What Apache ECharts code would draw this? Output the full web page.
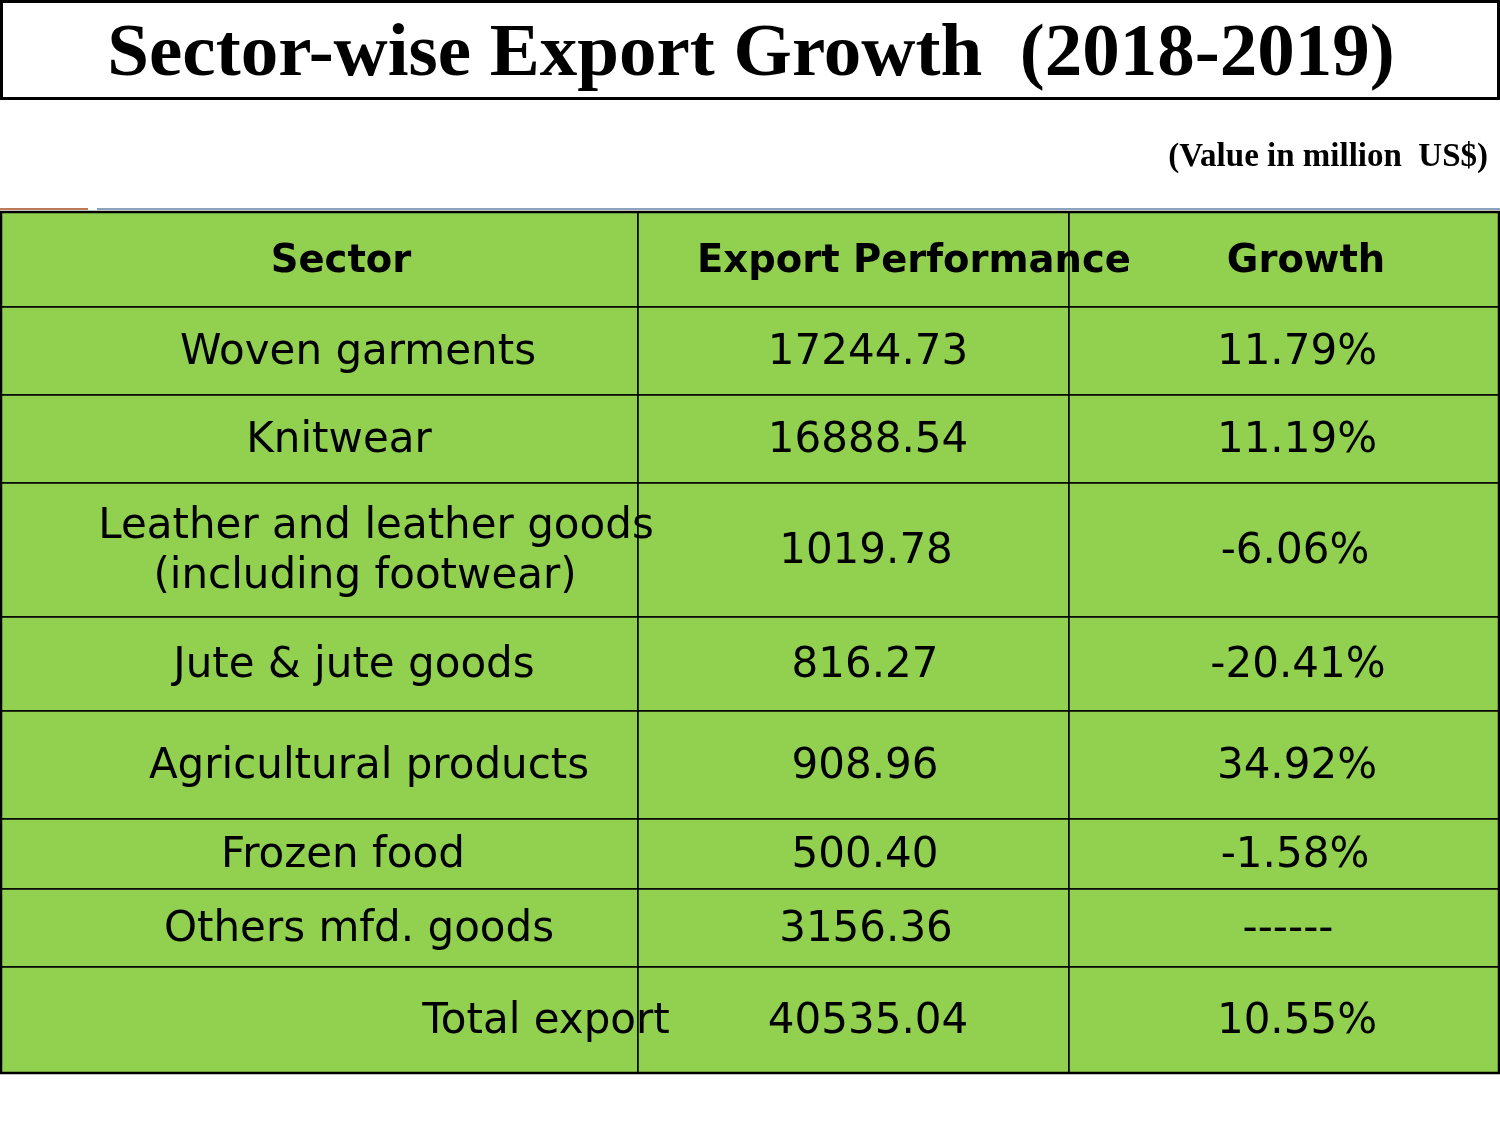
<!DOCTYPE html>
<html>
<head>
<meta charset="utf-8">
<script src="https://cdn.jsdelivr.net/npm/echarts@6/dist/echarts.min.js"></script>
<style>html,body{margin:0;padding:0;background:#fff}#c{width:1500px;height:1125px}</style>
</head>
<body>
<div id="c"></div>
<script>
// ---- data ----
const titleText = 'Sector-wise Export Growth  (2018-2019)';
const unitText = '(Value in million  US$)';
const headers = ['Sector', 'Export Performance', 'Growth'];
const sectors = ['Woven garments', 'Knitwear', 'Leather and leather goods\n(including footwear)', 'Jute & jute goods', 'Agricultural products', 'Frozen food', 'Others mfd. goods', 'Total export'];
const exportValues = ['17244.73', '16888.54', '1019.78', '816.27', '908.96', '500.40', '3156.36', '40535.04'];
const growthValues = ['11.79%', '11.19%', '-6.06%', '-20.41%', '34.92%', '-1.58%', '------', '10.55%'];

// ---- layout (axis units) ----
const colEdges = [0, 638, 1069, 1499];
const rowEdges = [0, 95, 183, 271, 405, 499, 607, 677, 755, 861];
const textX = [
  [341, 358, 339, [376, 365], 354, 369, 343, 359, 546],
  [914, 868, 868, 866, 865, 865, 865, 866, 868],
  [1306, 1297, 1297, 1295, 1298, 1297, 1295, 1288, 1297]
];
const TEXT_DY = 2.5;

function cellText(col, row) {
  if (row === 0) return headers[col];
  const i = row - 1;
  return [sectors, exportValues, growthValues][col][i];
}

const cells = [];
for (let r = 0; r < rowEdges.length - 1; r++) {
  for (let c = 0; c < 3; c++) cells.push([c, r]);
}

const GREEN = '#92D050';

function renderCell(params, api) {
  const col = api.value(0), row = api.value(1);
  const p0 = api.coord([colEdges[col], rowEdges[row]]);
  const p1 = api.coord([colEdges[col + 1], rowEdges[row + 1]]);
  const txt = cellText(col, row);
  const lines = txt.split('\n');
  const cy = (p0[1] + p1[1]) / 2 + TEXT_DY;
  const lineH = 50;
  const xs = textX[col][row];
  const font = row === 0 ? 'bold 38.5px "DejaVu Sans"' : '42px "DejaVu Sans"';
  const children = [{
    type: 'rect',
    shape: { x: p0[0], y: p0[1], width: p1[0] - p0[0], height: p1[1] - p0[1] },
    style: { fill: GREEN, stroke: '#000', lineWidth: 1.5 },
    z2: 1
  }];
  lines.forEach((ln, k) => {
    const tx = Array.isArray(xs) ? xs[k] : xs;
    children.push({
      type: 'text',
      z2: 10,
      style: {
        x: api.coord([tx, 0])[0],
        y: cy + (k - (lines.length - 1) / 2) * lineH,
        text: ln,
        font: font,
        fill: '#000',
        align: 'center',
        verticalAlign: 'middle'
      }
    });
  });
  return { type: 'group', children };
}

function renderBorder(params, api) {
  const p0 = api.coord([colEdges[0], rowEdges[0]]);
  const p1 = api.coord([colEdges[colEdges.length - 1], rowEdges[rowEdges.length - 1]]);
  return {
    type: 'rect',
    shape: { x: p0[0] + 1, y: p0[1], width: p1[0] - p0[0] - 1, height: p1[1] - p0[1] },
    style: { fill: 'none', stroke: '#000', lineWidth: 2.5 },
    z2: 20
  };
}

const chart = echarts.init(document.getElementById('c'), null, { renderer: 'canvas' });
chart.setOption({
  animation: false,
  backgroundColor: '#fff',
  grid: { left: 0, right: 0, top: 212, bottom: 52 },
  xAxis: { type: 'value', min: 0, max: 1500, show: false },
  yAxis: { type: 'value', min: 0, max: 861, inverse: true, show: false },
  graphic: [
    { type: 'rect', shape: { x: 1.5, y: 1.5, width: 1497, height: 97 }, style: { fill: '#fff', stroke: '#000', lineWidth: 3 } },
    { type: 'text', style: { x: 751, y: 56, text: titleText, font: 'bold 75px "Liberation Serif"', fill: '#000', align: 'center', verticalAlign: 'middle' } },
    { type: 'text', style: { x: 1488, y: 157, text: unitText, font: 'bold 33px "Liberation Serif"', fill: '#000', align: 'right', verticalAlign: 'middle' } },
    { type: 'line', shape: { x1: 0, y1: 209, x2: 88, y2: 209 }, style: { stroke: '#BE7B5A', lineWidth: 2 } },
    { type: 'line', shape: { x1: 97, y1: 209, x2: 1500, y2: 209 }, style: { stroke: '#8DA3BB', lineWidth: 2 } }
  ],
  series: [
    { type: 'custom', renderItem: renderCell, data: cells, clip: false, silent: true },
    { type: 'custom', renderItem: renderBorder, data: [[0, 0]], clip: false, silent: true }
  ]
});
</script>
</body>
</html>
